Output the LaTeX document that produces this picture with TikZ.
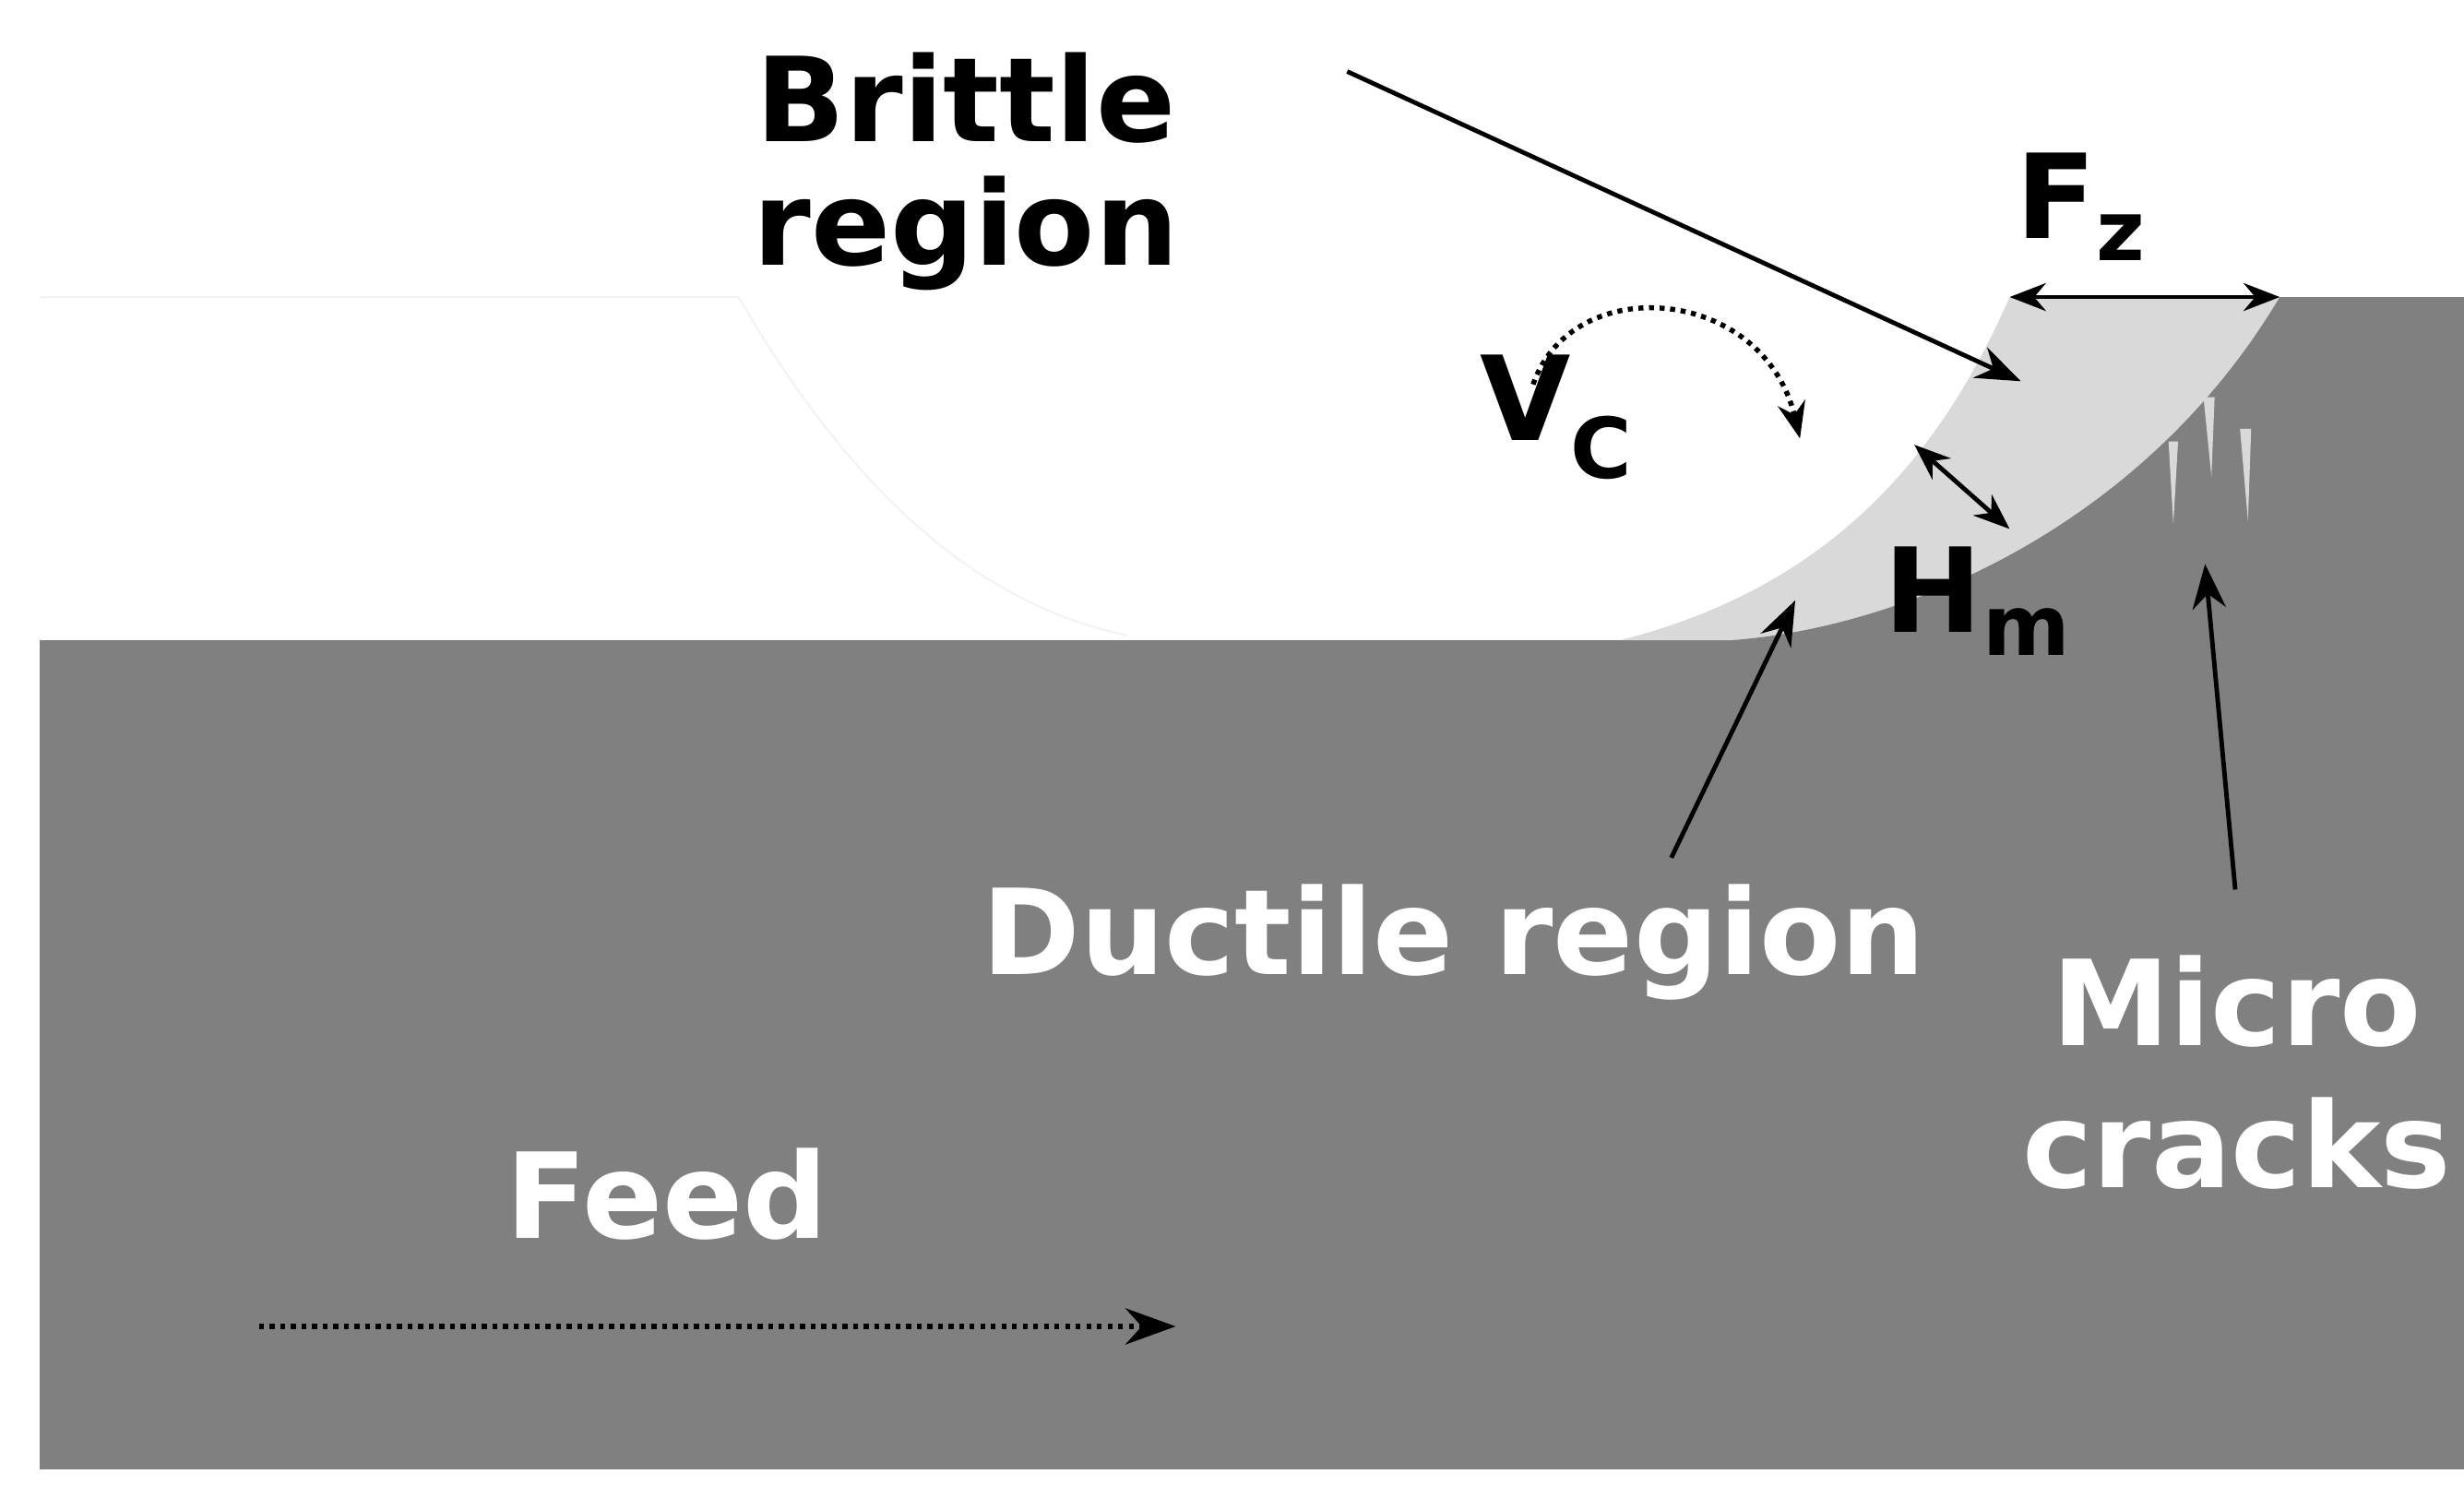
\documentclass[tikz,border=0pt]{standalone}
\usepackage{fontspec}
\setmainfont{DejaVu Sans}
\usetikzlibrary{arrows.meta}
\definecolor{dark}{HTML}{808080}
\definecolor{chip}{HTML}{D9D9D9}
\begin{document}
\begin{tikzpicture}[x=0.02cm,y=-0.02cm,
  lbl/.style={font=\bfseries\fontsize{42}{50}\selectfont,align=center},
  wlbl/.style={text=white,font=\bfseries\fontsize{42.5}{51}\selectfont,align=center},
  arr/.style={line width=1.6pt,-{Stealth[length=16pt,width=12pt]}},
  darr/.style={line width=1.6pt,{Stealth[length=13pt,width=10pt]}-{Stealth[length=13pt,width=10pt]}},
  dot/.style={line width=1.8pt,dotted}]
\useasboundingbox (0,0) rectangle (1551,935);
\fill[white] (0,0) rectangle (1551,935);
\fill[dark] (25,403) rectangle (1551,925);
\draw[black!5,line width=0.6pt] (25,187) -- (465,187) .. controls (530,300) and (610,380) .. (710,400);
\fill[chip] (1020,403) .. controls (1150,370) and (1220,290) .. (1265,187) -- (1435,187)
  .. controls (1350,330) and (1200,395) .. (1090,403) -- cycle;
\fill[dark] (1090,403) .. controls (1200,395) and (1350,330) .. (1435,187) -- (1551,187) -- (1551,403) -- cycle;
% cracks
\fill[chip] (1365,278) -- (1371,278) -- (1368,330) -- cycle;
\fill[chip] (1387,250) -- (1394,250) -- (1392,300) -- cycle;
\fill[chip] (1410,270) -- (1417,270) -- (1415,328) -- cycle;
% labels
\node[lbl,text=black] (brittle) at (608,108) {Brittle\\[-6pt]region};
\coordinate (bs) at (848,45); \coordinate (be) at (1272,240);
\draw[arr] (bs) -- (be);
\node[lbl,text=black,anchor=base] (fz) at (1310,150) {F\textsubscript{\fontsize{30}{30}\selectfont z}};
\coordinate (f1) at (1265,187); \coordinate (f2) at (1435,187);
\draw[darr] (f1) -- (f2);
\node[lbl,text=black,anchor=base] (vc) at (980,277) {V\textsubscript{\fontsize{30}{30}\selectfont C}};
\coordinate (v1) at (965,242); \coordinate (v2) at (1133,276);
\draw[dot,-{Stealth[length=13pt,width=10pt]}] (v1) .. controls (990,170) and (1110,180) .. (v2);
\node[lbl,text=black,anchor=base] (hm) at (1245,398) {H\textsubscript{\fontsize{30}{30}\selectfont m}};
\coordinate (h1) at (1205,280); \coordinate (h2) at (1265,333);
\draw[darr] (h1) -- (h2);
\node[wlbl] (duct) at (915,593) {Ductile region};
\coordinate (d1) at (1052,540); \coordinate (d2) at (1130,378);
\draw[arr] (d1) -- (d2);
\node[wlbl] (micro) at (1408,675) {Micro\\cracks};
\coordinate (m1) at (1407,560); \coordinate (m2) at (1388,355);
\draw[arr] (m1) -- (m2);
\node[wlbl] (feed) at (420,752) {Feed};
\coordinate (e1) at (163,835); \coordinate (e2) at (740,835);
\draw[dot,-{Stealth[length=18pt,width=13pt]}] (e1) -- (e2);
\end{tikzpicture}
\end{document}
